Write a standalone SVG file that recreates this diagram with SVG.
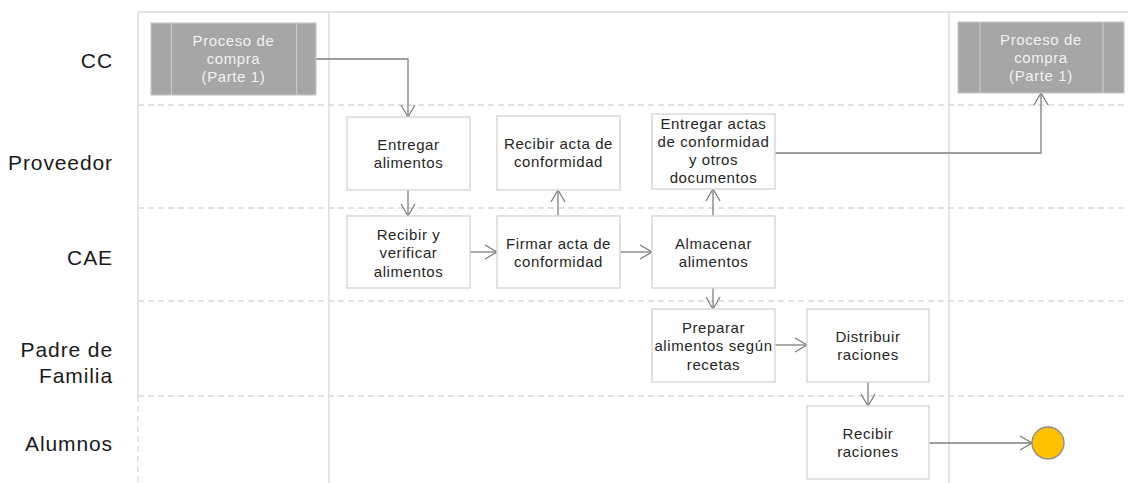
<svg xmlns="http://www.w3.org/2000/svg" width="1128" height="483" viewBox="0 0 1128 483">
  <style>
    .lane-label { font-family: "Liberation Sans", Arial, sans-serif; font-size: 21px; letter-spacing: 0.9px; fill: #1a1a1a; text-anchor: end; }
    .frame { stroke: #d9d9d9; stroke-width: 1.3; fill: none; }
    .divider { stroke: #d9d9d9; stroke-width: 1.3; stroke-dasharray: 6 4; fill: none; }
    .task { fill: #ffffff; stroke: #d9d9d9; stroke-width: 1.5; }
    .task-text { font-family: "Liberation Sans", Arial, sans-serif; font-size: 15px; letter-spacing: 0.6px; fill: #262626; text-anchor: middle; }
    .sub { fill: #a6a6a6; stroke: #c8c8c8; stroke-width: 1.2; }
    .sub-line { stroke: #c8c8c8; stroke-width: 1.2; }
    .sub-text { font-family: "Liberation Sans", Arial, sans-serif; font-size: 15px; letter-spacing: 0.6px; fill: #f2f2f2; text-anchor: middle; }
    .flow { stroke: #7f7f7f; stroke-width: 1.3; fill: none; marker-end: url(#arrow); }
    .end { fill: #ffc000; stroke: #8c8c8c; stroke-width: 1.3; }
  </style>
  <defs>
    <marker id="arrow" markerUnits="userSpaceOnUse" markerWidth="14" markerHeight="16" viewBox="0 0 14 16" refX="13" refY="8" orient="auto">
      <path d="M1,1 L13,8 L1,15" fill="none" stroke="#7f7f7f" stroke-width="1.3"/>
    </marker>
  </defs>

  <rect width="1128" height="483" fill="#ffffff"/>

  <!-- pool frame and lanes -->
  <g id="lanes">
    <line class="frame" x1="138" y1="12" x2="1128" y2="12"/>
    <line class="frame" x1="138" y1="12" x2="138" y2="396"/>
    <line class="divider" x1="138" y1="396" x2="138" y2="483"/>
    <line class="frame" x1="329" y1="12" x2="329" y2="483"/>
    <line class="frame" x1="949" y1="12" x2="949" y2="483"/>
    <line class="divider" x1="138" y1="105" x2="1128" y2="105"/>
    <line class="divider" x1="138" y1="208" x2="1128" y2="208"/>
    <line class="divider" x1="138" y1="301" x2="1128" y2="301"/>
    <line class="divider" x1="138" y1="396" x2="1128" y2="396"/>
    <text class="lane-label" x="113" y="68">CC</text>
    <text class="lane-label" x="113" y="170">Proveedor</text>
    <text class="lane-label" x="113" y="265">CAE</text>
    <text class="lane-label" x="113" y="357">Padre de</text>
    <text class="lane-label" x="113" y="383">Familia</text>
    <text class="lane-label" x="113" y="451">Alumnos</text>
  </g>

  <!-- connectors -->
  <g id="connectors">
    <path class="flow" d="M316,59 H408 V117"/>
    <path class="flow" d="M408,190 V216"/>
    <path class="flow" d="M470,252 H497"/>
    <path class="flow" d="M558,216 V190"/>
    <path class="flow" d="M620,252 H652"/>
    <path class="flow" d="M713,216 V189"/>
    <path class="flow" d="M775,153 H1041 V93"/>
    <path class="flow" d="M713,288 V309"/>
    <path class="flow" d="M775,345 H807"/>
    <path class="flow" d="M868,382 V406"/>
    <path class="flow" d="M929,443 H1032"/>
  </g>

  <g id="compra-1">
    <rect class="sub" x="151" y="23" width="165" height="72"/>
    <line class="sub-line" x1="171.5" y1="23" x2="171.5" y2="95"/>
    <line class="sub-line" x1="296.5" y1="23" x2="296.5" y2="95"/>
    <text class="sub-text" x="233.5" y="46">Proceso de</text>
    <text class="sub-text" x="233.5" y="64">compra</text>
    <text class="sub-text" x="233.5" y="82">(Parte 1)</text>
  </g>

  <g id="compra-2">
    <rect class="sub" x="958" y="22" width="166" height="71"/>
    <line class="sub-line" x1="980" y1="22" x2="980" y2="93"/>
    <line class="sub-line" x1="1103" y1="22" x2="1103" y2="93"/>
    <text class="sub-text" x="1041" y="45">Proceso de</text>
    <text class="sub-text" x="1041" y="63">compra</text>
    <text class="sub-text" x="1041" y="81">(Parte 1)</text>
  </g>

  <g id="entregar-alimentos">
    <rect class="task" x="347" y="117" width="123" height="73"/>
    <text class="task-text" x="408.5" y="150">Entregar</text>
    <text class="task-text" x="408.5" y="168">alimentos</text>
  </g>

  <g id="recibir-acta">
    <rect class="task" x="497" y="116" width="123" height="74"/>
    <text class="task-text" x="558.5" y="149">Recibir acta de</text>
    <text class="task-text" x="558.5" y="167">conformidad</text>
  </g>

  <g id="entregar-actas">
    <rect class="task" x="652" y="114" width="123" height="75"/>
    <text class="task-text" x="713.5" y="129">Entregar actas</text>
    <text class="task-text" x="713.5" y="147">de conformidad</text>
    <text class="task-text" x="713.5" y="165">y otros</text>
    <text class="task-text" x="713.5" y="183">documentos</text>
  </g>

  <g id="recibir-verificar">
    <rect class="task" x="347" y="216" width="123" height="72"/>
    <text class="task-text" x="408.5" y="240">Recibir y</text>
    <text class="task-text" x="408.5" y="258">verificar</text>
    <text class="task-text" x="408.5" y="277">alimentos</text>
  </g>

  <g id="firmar-acta">
    <rect class="task" x="497" y="216" width="123" height="72"/>
    <text class="task-text" x="558.5" y="249">Firmar acta de</text>
    <text class="task-text" x="558.5" y="267">conformidad</text>
  </g>

  <g id="almacenar">
    <rect class="task" x="652" y="216" width="123" height="72"/>
    <text class="task-text" x="713.5" y="249">Almacenar</text>
    <text class="task-text" x="713.5" y="267">alimentos</text>
  </g>

  <g id="preparar">
    <rect class="task" x="652" y="309" width="123" height="73"/>
    <text class="task-text" x="713.5" y="333">Preparar</text>
    <text class="task-text" x="713.5" y="351">alimentos según</text>
    <text class="task-text" x="713.5" y="370">recetas</text>
  </g>

  <g id="distribuir">
    <rect class="task" x="807" y="309" width="122" height="73"/>
    <text class="task-text" x="868" y="342">Distribuir</text>
    <text class="task-text" x="868" y="360">raciones</text>
  </g>

  <g id="recibir-raciones">
    <rect class="task" x="807" y="406" width="122" height="73"/>
    <text class="task-text" x="868" y="439">Recibir</text>
    <text class="task-text" x="868" y="457">raciones</text>
  </g>

  <g id="fin">
    <circle class="end" cx="1048" cy="443" r="16"/>
  </g>
</svg>
